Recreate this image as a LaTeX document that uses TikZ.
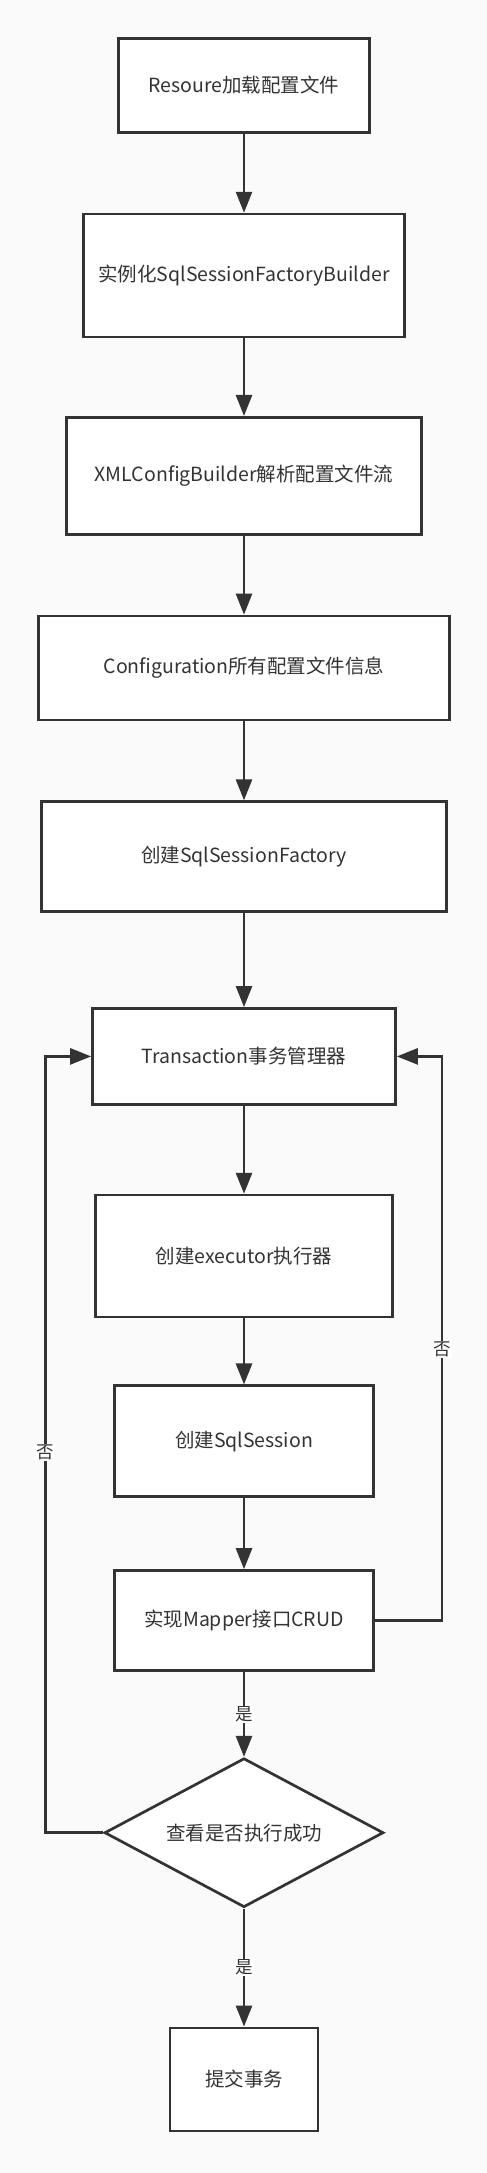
\documentclass[tikz,border=0pt]{standalone}
\usepackage{fontspec}
\setmainfont{Noto Sans CJK SC}
\usepackage{xcolor}
\usetikzlibrary{shapes.geometric, arrows.meta, positioning}

\definecolor{inkc}{HTML}{333333}
\definecolor{bgc}{HTML}{FAFAFA}

\begin{document}
\begin{tikzpicture}[
  font=\fontsize{19.5}{23}\selectfont,
  text=inkc,
  box/.style={rectangle, draw=inkc, fill=white, line width=2.7pt, inner sep=0pt, align=center},
  check/.style={diamond, draw=inkc, fill=white, line width=2.7pt, inner sep=0pt, aspect=1.85, minimum width=279pt, minimum height=149pt},
  line/.style={draw=inkc, line width=2.7pt, -{Triangle[length=21pt,width=16pt]}},
  lbl/.style={fill=white, inner sep=1pt, font=\fontsize{17.5}{20}\selectfont}
]
  \fill[bgc] (0,0) rectangle (487pt,-2173pt);
  \useasboundingbox (0,0) rectangle (487pt,-2173pt);

  \node [box, minimum width=251pt, minimum height=94pt] (load) at (244pt,-85.4pt) {Resoure加载配置文件};
  \node [box, minimum width=321pt, minimum height=123pt] (builder) [below=79pt of load] {实例化SqlSessionFactoryBuilder};
  \node [box, minimum width=355pt, minimum height=117pt] (xml) [below=77.5pt of builder] {XMLConfigBuilder解析配置文件流};
  \node [box, minimum width=411pt, minimum height=104pt] (config) [below=79pt of xml] {Configuration所有配置文件信息};
  \node [box, minimum width=405pt, minimum height=110pt] (factory) [below=79pt of config] {创建SqlSessionFactory};
  \node [box, minimum width=303pt, minimum height=96pt] (trans) [below=94pt of factory] {Transaction事务管理器};
  \node [box, minimum width=297pt, minimum height=122pt] (exec) [below=88pt of trans] {创建executor执行器};
  \node [box, minimum width=259pt, minimum height=111pt] (session) [below=66pt of exec] {创建SqlSession};
  \node [box, minimum width=259pt, minimum height=100pt] (mapper) [below=71pt of session] {实现Mapper接口CRUD};
  \node [check] (ok) [below=85pt of mapper] {查看是否执行成功};
  \node [box, minimum width=148pt, minimum height=103pt] (commit) [below=118pt of ok] {提交事务};

  \draw [line] (load) -- (builder);
  \draw [line] (builder) -- (xml);
  \draw [line] (xml) -- (config);
  \draw [line] (config) -- (factory);
  \draw [line] (factory) -- (trans);
  \draw [line] (trans) -- (exec);
  \draw [line] (exec) -- (session);
  \draw [line] (session) -- (mapper);
  \draw [line] (mapper) -- node[lbl, pos=0.5] {是} (ok);
  \draw [line] (ok) -- node[lbl, midway] {是} (commit);

  % loops back to the transaction manager
  \draw [line] (ok.west) -- ++(-58pt,0) |- node[lbl, pos=0.245] {否} (trans.west);
  \draw [line] (mapper.east) -- ++(67pt,0) |- node[lbl, pos=0.24] {否} (trans.east);
\end{tikzpicture}
\end{document}
